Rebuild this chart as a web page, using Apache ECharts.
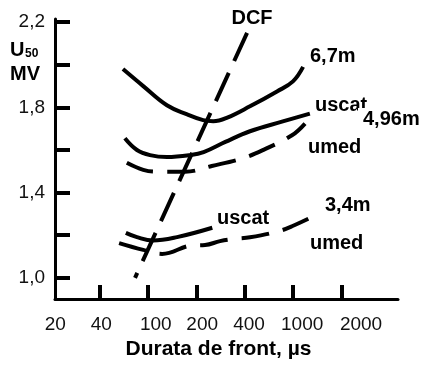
<!DOCTYPE html>
<html>
<head>
<meta charset="utf-8">
<script src="https://cdn.jsdelivr.net/npm/echarts@6/dist/echarts.min.js"></script>
<style>
  html, body { margin: 0; padding: 0; background: #fff; }
  #chart { width: 425px; height: 365px; }
</style>
</head>
<body>
<div id="chart"></div>
<script>
// x is measured in axis steps: 0 = 20 µs, 1 = 40, 2 = 100, 3 = 200, 4 = 400, 5 = 1000, 6 = 2000
const xTickLabels = ['20', '40', '100', '200', '400', '1000', '2000']
const yTicks = [1.0, 1.2, 1.4, 1.6, 1.8, 2.0, 2.2]
const yLabels = [1.0, 1.4, 1.8, 2.2]

const dcf = [[4.05, 2.15], [1.73, 1.0]]
const uscat67 = [[1.48, 1.98], [1.9, 1.9], [2.39, 1.81], [2.81, 1.767], [3.14, 1.74], [3.35, 1.735],
  [3.64, 1.752], [4.11, 1.805], [4.67, 1.875], [5.0, 1.922], [5.21, 1.99]]
const uscat496 = [[1.52, 1.655], [1.77, 1.6], [2.04, 1.576], [2.39, 1.567], [2.87, 1.576], [3.15, 1.59],
  [3.6, 1.638], [4.11, 1.688], [4.79, 1.734], [5.35, 1.771]]
const umed496 = [[1.56, 1.54], [1.9, 1.507], [2.19, 1.498], [2.77, 1.498], [3.32, 1.525], [3.97, 1.562],
  [4.42, 1.604], [4.98, 1.669], [5.25, 1.724]]
const uscat34 = [[1.54, 1.211], [1.77, 1.191], [2.1, 1.175], [2.6, 1.191], [3.33, 1.235]]
const umed34 = [[1.4, 1.163], [1.9, 1.131], [2.29, 1.112], [2.91, 1.152], [3.18, 1.154], [3.49, 1.172],
  [3.8, 1.183], [4.11, 1.19], [4.69, 1.218], [4.98, 1.242], [5.5, 1.297]]

// where the printed x labels sit (they drift right of their ticks in the original)
const xLabelPos = [0.08, 1.03, 2.16, 3.12, 4.09, 5.19, 6.41]

const FONT = '"Liberation Sans", Arial, sans-serif'

function curve(data, dashed) {
  return {
    type: 'line',
    data: data,
    smooth: 0.4,
    showSymbol: false,
    silent: true,
    lineStyle: {
      color: '#000',
      width: 4,
      type: dashed ? [28, 14] : 'solid',
      cap: 'butt'
    }
  }
}

function note(text, x, y, opts) {
  return {
    type: 'text',
    style: Object.assign({
      text: text,
      x: x,
      y: y,
      font: 'bold 20px ' + FONT,
      fill: '#000',
      textAlign: 'left',
      textVerticalAlign: 'middle'
    }, opts || {})
  }
}

const chart = echarts.init(document.getElementById('chart'))
chart.setOption({
  animation: false,
  grid: { left: 55, right: 27, top: 19, bottom: 62 },
  xAxis: {
    type: 'value',
    min: 0.073,
    max: 7.175,
    name: 'Durata de front, µs',
    nameLocation: 'middle',
    nameGap: 37,
    nameTextStyle: { fontFamily: FONT, fontSize: 21, fontWeight: 'bold', color: '#000', padding: [0, 16, 0, 0] },
    axisLine: { lineStyle: { color: '#000', width: 3 } },
    axisTick: { inside: true, length: 14, lineStyle: { color: '#000', width: 4 }, customValues: [1, 2, 3, 4, 5, 6] },
    axisLabel: {
      customValues: xLabelPos,
      margin: 16,
      fontFamily: FONT,
      fontSize: 19,
      color: '#111',
      formatter: function (v) { return xTickLabels[Math.round(v)] }
    },
    splitLine: { show: false }
  },
  yAxis: {
    type: 'value',
    min: 0.9,
    max: 2.215,
    axisLine: { show: true, lineStyle: { color: '#000', width: 3 } },
    axisTick: { show: true, inside: true, length: 15, lineStyle: { color: '#000', width: 4 }, customValues: yTicks },
    axisLabel: {
      customValues: yLabels,
      margin: 10,
      fontFamily: FONT,
      fontSize: 19,
      color: '#111',
      formatter: function (v) { return v.toFixed(1).replace('.', ',') }
    },
    splitLine: { show: false }
  },
  series: [
    Object.assign(curve(dcf, true), { smooth: false, lineStyle: { color: '#000', width: 4, type: [31, 13], cap: 'butt' } }),
    curve(uscat67, false),
    curve(uscat496, false),
    curve(umed496, true),
    curve(uscat34, false),
    curve(umed34, true)
  ],
  graphic: [
    note('U', 10, 50),
    note('50', 25, 54, { font: 'bold 12px ' + FONT }),
    note('MV', 10, 74),
    note('DCF', 252, 18, { textAlign: 'center' }),
    note('6,7m', 310, 56),
    note('uscat', 315, 105),
    // the "4,96m" label sits over the foot of the "t" in the original
    { type: 'rect', shape: { x: 358, y: 108, width: 64, height: 20 }, style: { fill: '#fff' } },
    note('4,96m', 363, 119),
    note('umed', 308, 147),
    note('3,4m', 325, 205),
    note('uscat', 217, 218),
    note('umed', 310, 243)
  ].map(function (g, i) { g.z = 100 + i; return g })
})
</script>
</body>
</html>
